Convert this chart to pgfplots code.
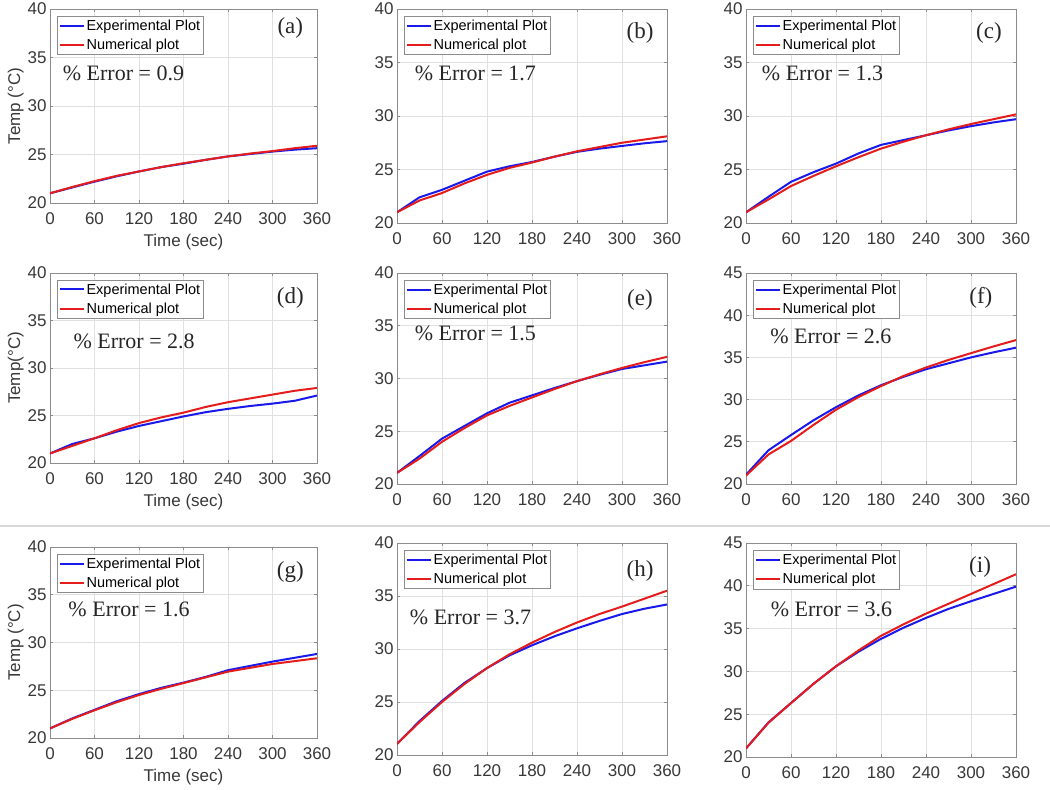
\documentclass[border=0pt]{standalone}
\usepackage{fontspec}
\setmainfont{Liberation Sans}
\newfontfamily\serif{Liberation Serif}
\usepackage{pgfplots}
\pgfplotsset{compat=1.18}
\definecolor{expblue}{RGB}{25,25,235}
\definecolor{numred}{RGB}{228,28,28}
\pgfplotsset{
  panel/.style={
    scale only axis,
    xmin=0, xmax=360, ymin=20,
    xtick={0,60,...,360}, ytick distance=5,
    grid=major,
    major grid style={draw=black!12, line width=0.7pt},
    axis line style={draw=black!45, line width=0.9pt},
    major tick style={draw=black!45, line width=0.8pt},
    major tick length=3pt, tick align=inside,
    tick label style={font=\fontsize{17}{20}\selectfont, text=black!78},
    xticklabel style={yshift=-6pt},
    /pgf/number format/assume math mode=true,
    label style={font=\fontsize{17}{20}\selectfont, text=black!78},
    xlabel style={at={(axis description cs:0.5,0)}, anchor=center, yshift=-39pt},
    ylabel style={at={(axis description cs:-0.128,0.5)}, anchor=center},
    legend style={at={(0.027,0.965)}, anchor=north west, draw=black!45, line width=0.7pt, fill=white,
      font=\fontsize{14.5}{16}\selectfont, inner xsep=1pt, inner ysep=1.5pt, row sep=3pt, cells={anchor=west}},
    legend image code/.code={\draw[##1, line width=2pt] (0pt,0pt) -- (24pt,0pt);},
    every axis plot/.append style={line width=2pt, no markers},
  },
}
\tikzset{
  errtxt/.style={anchor=west, font=\serif\fontsize{22}{24}\selectfont, text=black!85},
  tagtxt/.style={anchor=center, font=\serif\fontsize{23}{25}\selectfont, text=black!85},
}
\begin{document}
\begin{tikzpicture}[x=1pt,y=1pt]
\path[use as bounding box] (0pt,0pt) rectangle (1050pt,790pt);
\draw[black!15, line width=1.2pt] (0pt,264pt) -- (1050pt,264pt);

% (a)
\begin{axis}[panel, at={(50pt,587pt)}, anchor=south west, width=267pt, height=194pt, ymax=40,
  xlabel={Time (sec)}, ylabel={Temp (°C)}]
\addplot[expblue] coordinates {(0,21)(30,21.6)(60,22.2)(90,22.75)(120,23.25)(150,23.7)(180,24.05)(210,24.45)(240,24.8)(270,25.05)(300,25.3)(330,25.5)(360,25.65)};
\addplot[numred] coordinates {(0,21)(30,21.65)(60,22.25)(90,22.8)(120,23.25)(150,23.7)(180,24.1)(210,24.45)(240,24.8)(270,25.1)(300,25.35)(330,25.65)(360,25.9)};
\legend{Experimental Plot, Numerical plot}
\node[errtxt] at (rel axis cs:0.035,0.67) {\% Error = 0.9};
\node[tagtxt] at (rel axis cs:0.9,0.9) {(a)};
\end{axis}

% (b)
\begin{axis}[panel, at={(397pt,567pt)}, anchor=south west, width=270pt, height=214pt, ymax=40]
\addplot[expblue] coordinates {(0,21)(30,22.4)(60,23.1)(90,23.95)(120,24.8)(150,25.3)(180,25.7)(210,26.2)(240,26.65)(270,26.95)(300,27.2)(330,27.45)(360,27.65)};
\addplot[numred] coordinates {(0,21)(30,22.1)(60,22.8)(90,23.7)(120,24.5)(150,25.15)(180,25.65)(210,26.2)(240,26.7)(270,27.1)(300,27.5)(330,27.8)(360,28.1)};
\legend{Experimental Plot, Numerical plot}
\node[errtxt] at (rel axis cs:0.053,0.70) {\% Error = 1.7};
\node[tagtxt] at (rel axis cs:0.9,0.89) {(b)};
\end{axis}

% (c)
\begin{axis}[panel, at={(746pt,567pt)}, anchor=south west, width=270pt, height=214pt, ymax=40]
\addplot[expblue] coordinates {(0,21)(30,22.45)(60,23.85)(90,24.75)(120,25.55)(150,26.5)(180,27.3)(210,27.75)(240,28.2)(270,28.65)(300,29.05)(330,29.4)(360,29.7)};
\addplot[numred] coordinates {(0,21)(30,22.2)(60,23.45)(90,24.4)(120,25.3)(150,26.15)(180,26.95)(210,27.6)(240,28.2)(270,28.75)(300,29.25)(330,29.7)(360,30.15)};
\legend{Experimental Plot, Numerical plot}
\node[errtxt] at (rel axis cs:0.046,0.70) {\% Error = 1.3};
\node[tagtxt] at (rel axis cs:0.9,0.89) {(c)};
\end{axis}

% (d)
\begin{axis}[panel, at={(50pt,327pt)}, anchor=south west, width=267pt, height=190pt, ymax=40,
  xlabel={Time (sec)}, ylabel={Temp(°C)}]
\addplot[expblue] coordinates {(0,21)(30,22)(60,22.6)(90,23.3)(120,23.9)(150,24.4)(180,24.9)(210,25.35)(240,25.7)(270,26)(300,26.25)(330,26.55)(360,27.1)};
\addplot[numred] coordinates {(0,21)(30,21.8)(60,22.6)(90,23.45)(120,24.2)(150,24.8)(180,25.3)(210,25.9)(240,26.4)(270,26.8)(300,27.2)(330,27.6)(360,27.9)};
\legend{Experimental Plot, Numerical plot}
\node[errtxt] at (rel axis cs:0.075,0.64) {\% Error = 2.8};
\node[tagtxt] at (rel axis cs:0.9,0.87) {(d)};
\end{axis}

% (e)
\begin{axis}[panel, at={(397pt,306pt)}, anchor=south west, width=270pt, height=211pt, ymax=40]
\addplot[expblue] coordinates {(0,21.05)(30,22.65)(60,24.3)(90,25.5)(120,26.7)(150,27.7)(180,28.4)(210,29.1)(240,29.75)(270,30.35)(300,30.9)(330,31.25)(360,31.6)};
\addplot[numred] coordinates {(0,21.05)(30,22.4)(60,24.0)(90,25.3)(120,26.5)(150,27.4)(180,28.2)(210,29.0)(240,29.75)(270,30.4)(300,31.0)(330,31.55)(360,32.05)};
\legend{Experimental Plot, Numerical plot}
\node[errtxt] at (rel axis cs:0.053,0.715) {\% Error = 1.5};
\node[tagtxt] at (rel axis cs:0.9,0.87) {(e)};
\end{axis}

% (f)
\begin{axis}[panel, at={(746pt,306pt)}, anchor=south west, width=270pt, height=211pt, ymax=45]
\addplot[expblue] coordinates {(0,21.1)(30,24.0)(60,25.8)(90,27.55)(120,29.1)(150,30.5)(180,31.7)(210,32.7)(240,33.6)(270,34.3)(300,35.0)(330,35.6)(360,36.15)};
\addplot[numred] coordinates {(0,21)(30,23.5)(60,25.1)(90,27.0)(120,28.8)(150,30.3)(180,31.6)(210,32.8)(240,33.8)(270,34.7)(300,35.5)(330,36.3)(360,37.05)};
\legend{Experimental Plot, Numerical plot}
\node[errtxt] at (rel axis cs:0.077,0.70) {\% Error = 2.6};
\node[tagtxt] at (rel axis cs:0.87,0.88) {(f)};
\end{axis}

% (g)
\begin{axis}[panel, at={(50pt,52pt)}, anchor=south west, width=267pt, height=191pt, ymax=40,
  xlabel={Time (sec)}, ylabel={Temp (°C)}]
\addplot[expblue] coordinates {(0,21)(30,22.05)(60,22.95)(90,23.85)(120,24.6)(150,25.25)(180,25.8)(210,26.4)(240,27.1)(270,27.55)(300,28.0)(330,28.4)(360,28.8)};
\addplot[numred] coordinates {(0,21)(30,22.0)(60,22.9)(90,23.75)(120,24.5)(150,25.15)(180,25.75)(210,26.35)(240,26.95)(270,27.35)(300,27.75)(330,28.05)(360,28.35)};
\legend{Experimental Plot, Numerical plot}
\node[errtxt] at (rel axis cs:0.056,0.673) {\% Error = 1.6};
\node[tagtxt] at (rel axis cs:0.9,0.87) {(g)};
\end{axis}

% (h)
\begin{axis}[panel, at={(397pt,35pt)}, anchor=south west, width=270pt, height=212pt, ymax=40]
\addplot[expblue] coordinates {(0,21.05)(30,23.2)(60,25.1)(90,26.8)(120,28.2)(150,29.4)(180,30.35)(210,31.2)(240,31.95)(270,32.65)(300,33.3)(330,33.8)(360,34.2)};
\addplot[numred] coordinates {(0,21.05)(30,23.1)(60,25.0)(90,26.7)(120,28.2)(150,29.5)(180,30.6)(210,31.6)(240,32.5)(270,33.3)(300,34.0)(330,34.75)(360,35.5)};
\legend{Experimental Plot, Numerical plot}
\node[errtxt] at (rel axis cs:0.035,0.65) {\% Error = 3.7};
\node[tagtxt] at (rel axis cs:0.9,0.87) {(h)};
\end{axis}

% (i)
\begin{axis}[panel, at={(746pt,33pt)}, anchor=south west, width=270pt, height=214pt, ymax=45]
\addplot[expblue] coordinates {(0,21)(30,24.05)(60,26.3)(90,28.55)(120,30.6)(150,32.3)(180,33.8)(210,35.1)(240,36.25)(270,37.3)(300,38.2)(330,39.05)(360,39.9)};
\addplot[numred] coordinates {(0,21)(30,24.0)(60,26.3)(90,28.55)(120,30.6)(150,32.45)(180,34.15)(210,35.5)(240,36.75)(270,37.9)(300,39.05)(330,40.2)(360,41.35)};
\legend{Experimental Plot, Numerical plot}
\node[errtxt] at (rel axis cs:0.079,0.69) {\% Error = 3.6};
\node[tagtxt] at (rel axis cs:0.867,0.89) {(i)};
\end{axis}
\end{tikzpicture}
\end{document}
